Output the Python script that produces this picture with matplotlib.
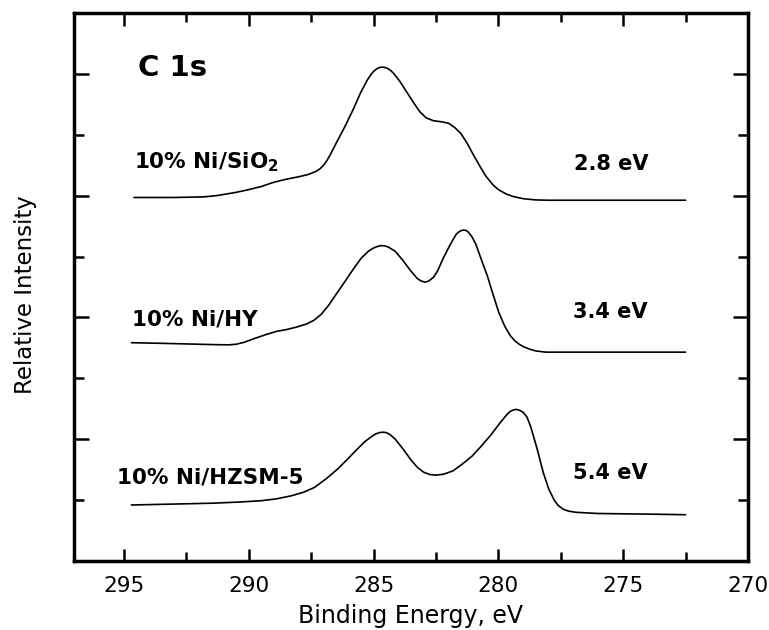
import matplotlib
matplotlib.use("Agg")
import matplotlib.pyplot as plt
from matplotlib.ticker import FixedLocator, NullFormatter

# ---- data (binding energy in eV, relative intensity in arbitrary offset units) ----
e_sio2 = [294.6, 293.0, 291.8, 291.3, 291.0, 290.5, 290.1, 289.5, 289.0, 288.5, 288.0, 287.6,
          287.3, 287.15, 287.0, 286.88, 286.75, 286.5, 286.13, 285.8, 285.52, 285.25, 285.1,
          285.0, 284.9, 284.8, 284.7, 284.6, 284.5, 284.4, 284.3, 284.2, 283.95, 283.7, 283.4,
          283.15, 282.9, 282.6, 282.3, 282.0, 281.75, 281.5, 281.25, 281.0, 280.75, 280.5, 280.2,
          280.0, 279.7, 279.4, 279.0, 278.5, 278.0, 275.0, 272.5]
i_sio2 = [5.97, 5.97, 5.98, 6.00, 6.02, 6.055, 6.09, 6.15, 6.22, 6.27, 6.31, 6.35,
          6.40, 6.44, 6.50, 6.57, 6.66, 6.86, 7.15, 7.43, 7.69, 7.90, 7.99,
          8.04, 8.075, 8.10, 8.11, 8.11, 8.10, 8.08, 8.05, 8.01, 7.88, 7.72, 7.53,
          7.38, 7.28, 7.23, 7.215, 7.19, 7.12, 7.02, 6.86, 6.67, 6.49, 6.32, 6.17,
          6.10, 6.03, 5.985, 5.95, 5.93, 5.925, 5.925, 5.925]

e_hy = [294.7, 293.5, 292.0, 291.3, 290.8, 290.5, 290.2, 289.8, 289.3, 288.9, 288.5, 288.1,
        287.7, 287.4, 287.1, 286.8, 286.5, 286.13, 285.8, 285.5, 285.2, 285.0, 284.85, 284.7,
        284.55, 284.4, 284.13, 283.85, 283.52, 283.25, 283.1, 282.95, 282.8, 282.6, 282.44,
        282.2, 281.95, 281.7, 281.6, 281.5, 281.4, 281.3, 281.2, 281.05, 280.9, 280.7, 280.44,
        280.2, 279.98, 279.75, 279.52, 279.35, 279.2, 279.0, 278.75, 278.5, 278.1, 275.0, 272.5]
i_hy = [3.585, 3.575, 3.56, 3.553, 3.55, 3.56, 3.59, 3.65, 3.72, 3.77, 3.80, 3.84,
        3.89, 3.95, 4.05, 4.20, 4.38, 4.60, 4.80, 4.97, 5.09, 5.14, 5.165, 5.18,
        5.175, 5.155, 5.085, 4.95, 4.77, 4.64, 4.60, 4.58, 4.595, 4.66, 4.76,
        4.98, 5.18, 5.36, 5.40, 5.425, 5.435, 5.43, 5.40, 5.32, 5.20, 4.97, 4.68,
        4.36, 4.08, 3.86, 3.70, 3.62, 3.57, 3.52, 3.48, 3.45, 3.43, 3.43, 3.43]

e_hzsm = [294.7, 293.0, 291.4, 290.3, 289.5, 288.9, 288.3, 287.8, 287.36, 286.9, 286.44, 286.05,
          285.67, 285.35, 285.06, 284.9, 284.75, 284.62, 284.5, 284.35, 284.13, 283.8, 283.52,
          283.25, 283.0, 282.75, 282.5, 282.2, 281.82, 281.45, 281.06, 280.7, 280.29, 279.95,
          279.67, 279.55, 279.4, 279.29, 279.15, 279.0, 278.85, 278.7, 278.44, 278.2, 277.98,
          277.75, 277.6, 277.4, 277.2, 276.9, 276.0, 274.0, 272.5]
i_hzsm = [0.92, 0.935, 0.95, 0.97, 0.99, 1.02, 1.07, 1.13, 1.21, 1.35, 1.51, 1.67,
          1.83, 1.96, 2.05, 2.09, 2.11, 2.115, 2.11, 2.08, 2.00, 1.83, 1.67,
          1.54, 1.46, 1.42, 1.41, 1.425, 1.48, 1.59, 1.72, 1.88, 2.075, 2.26,
          2.40, 2.45, 2.48, 2.49, 2.475, 2.44, 2.36, 2.20, 1.83, 1.45, 1.18,
          0.99, 0.91, 0.85, 0.82, 0.80, 0.78, 0.77, 0.76]

x_major = [295, 290, 285, 280, 275, 270]
x_minor = [292.5, 287.5, 282.5, 277.5, 272.5]
x_labels = ["295", "290", "285", "280", "275", "270"]
y_major = [2, 4, 6, 8]
y_minor = [1, 3, 5, 7]

sample_labels = ["10% Ni/SiO$_{\\mathbf{2}}$", "10% Ni/HY", "10% Ni/HZSM-5"]
sample_label_pos = [(294.59, 6.44), (294.67, 3.86), (295.27, 1.28)]
shift_labels = ["2.8 eV", "3.4 eV", "5.4 eV"]
shift_label_pos = [(276.97, 6.42), (277.0, 3.99), (277.0, 1.345)]

# ---- figure ----
plt.rcParams['font.family'] = ['DejaVu Sans']
plt.rcParams['mathtext.fontset'] = 'dejavusans'

fig = plt.figure(figsize=(7.69, 6.30), dpi=100)
ax = fig.add_axes([74 / 769, 1 - 561 / 630, (748 - 74) / 769, (561 - 13) / 630])

for e, i in [(e_sio2, i_sio2), (e_hy, i_hy), (e_hzsm, i_hzsm)]:
    ax.plot(e, i, color='black', linewidth=1.2, solid_joinstyle='round',
            solid_capstyle='round')

ax.set_xlim(297.0, 270.0)
ax.set_ylim(0, 9)

ax.xaxis.set_major_locator(FixedLocator(x_major))
ax.xaxis.set_minor_locator(FixedLocator(x_minor))
ax.set_xticklabels(x_labels)
ax.yaxis.set_major_locator(FixedLocator(y_major))
ax.yaxis.set_minor_locator(FixedLocator(y_minor))
ax.yaxis.set_major_formatter(NullFormatter())
ax.yaxis.set_minor_formatter(NullFormatter())

ax.tick_params(axis='x', which='major', direction='in', length=9, width=1.8,
               top=True, bottom=True, labelsize=15.5, pad=10.5)
ax.tick_params(axis='x', which='minor', direction='in', length=6.5, width=1.8,
               top=True, bottom=True)
ax.tick_params(axis='y', which='major', direction='in', length=11, width=1.8,
               left=True, right=True)
ax.tick_params(axis='y', which='minor', direction='in', length=7.5, width=1.8,
               left=True, right=True)

for sp in ax.spines.values():
    sp.set_linewidth(2.5)

fig.text(26 / 769, 1 - 295 / 630, "Relative Intensity", fontsize=16.5,
         rotation=90, ha='center', va='center')
fig.text(0.5 * (74 + 748) / 769, 1 - 622.7 / 630, "Binding Energy, eV",
         fontsize=17, ha='center', va='baseline')

ax.text(294.45, 7.97, "C 1s", fontsize=21, fontweight='bold', ha='left', va='baseline')
for txt, (x, y) in zip(sample_labels, sample_label_pos):
    ax.text(x, y, txt, fontsize=15.5, fontweight='bold', ha='left', va='baseline')
for txt, (x, y) in zip(shift_labels, shift_label_pos):
    ax.text(x, y, txt, fontsize=15, fontweight='bold', ha='left', va='baseline')

fig.savefig("out.png", dpi=100)
